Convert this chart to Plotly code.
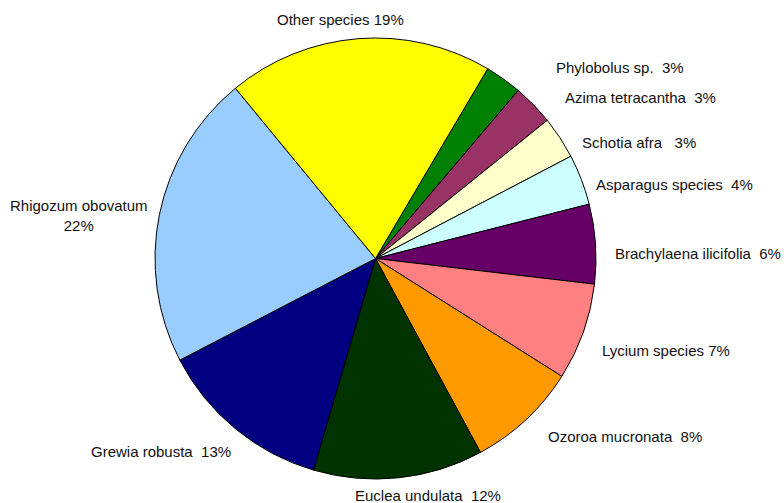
import plotly.graph_objects as go

species = ["Phylobolus sp.", "Azima tetracantha", "Schotia afra", "Asparagus species",
           "Brachylaena ilicifolia", "Lycium species", "Ozoroa mucronata", "Euclea undulata",
           "Grewia robusta", "Rhigozum obovatum", "Other species"]
shares = [2.7, 3.0, 3.1, 3.7, 5.8, 7.1, 8.1, 12.4, 12.8, 21.6, 19.4]
label_texts = ["Phylobolus sp.  3%", "Azima tetracantha  3%", "Schotia afra   3%",
               "Asparagus species  4%", "Brachylaena ilicifolia  6%", "Lycium species 7%",
               "Ozoroa mucronata  8%", "Euclea undulata  12%", "Grewia robusta  13%",
               "Rhigozum obovatum<br>22%", "Other species 19%"]
colors = ["#008000", "#993366", "#FFFFCC", "#CCFFFF", "#660066", "#FF8080",
          "#FF9900", "#003300", "#000080", "#99CCFF", "#FFFF00"]

# label placement (pixel coords in a 784x503 canvas) and anchors
label_px = [(554, 67), (563, 97), (580, 143), (594, 185), (613, 253), (600, 350),
            (546, 436), (428, 495), (233, 451), (79, 215), (340, 20)]
label_anchor = ["left", "left", "left", "left", "left", "left",
                "left", "center", "right", "center", "center"]

W, H = 784, 503

fig = go.Figure(go.Pie(
    labels=species, values=shares, sort=False, direction="clockwise", rotation=30.6,
    marker=dict(colors=colors, line=dict(color="black", width=1)),
    textinfo="none", hoverinfo="label+percent",
    domain=dict(x=[154.5 / W, 596.5 / W], y=[1 - 479 / H, 1 - 38 / H]),
))

for txt, (px, py), anc in zip(label_texts, label_px, label_anchor):
    fig.add_annotation(x=px / W, y=1 - py / H, xref="paper", yref="paper",
                       text=txt, showarrow=False, xanchor=anc, yanchor="middle",
                       font=dict(family="Liberation Sans, Arial", size=15, color="#111111"))

fig.update_layout(width=W, height=H, margin=dict(l=0, r=0, t=0, b=0),
                  showlegend=False, paper_bgcolor="white", plot_bgcolor="white")

fig.write_html("out.html")
